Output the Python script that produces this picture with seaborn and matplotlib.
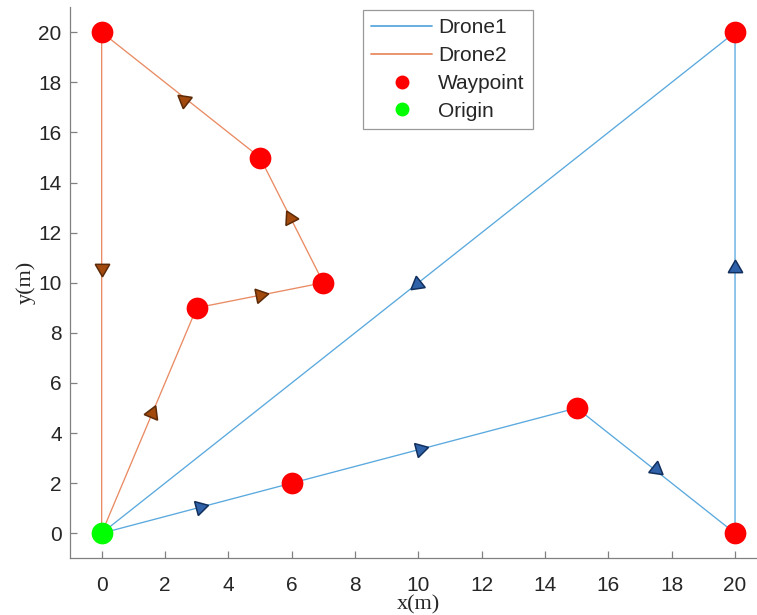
import numpy as np
import pandas as pd
import matplotlib
matplotlib.use("Agg")
import matplotlib.pyplot as plt
from matplotlib.lines import Line2D
import seaborn as sns

# Flight paths (metres)
drone1_x = [0, 6, 15, 20, 20, 0]
drone1_y = [0, 2, 5, 0, 20, 0]
drone2_x = [0, 3, 7, 5, 0, 0]
drone2_y = [0, 9, 10, 15, 20, 0]

# Waypoints and origin
waypoint_x = [6, 15, 20, 20, 3, 7, 5, 0]
waypoint_y = [2, 5, 0, 20, 9, 10, 15, 20]
origin_x = [0]
origin_y = [0]

# Direction arrowheads along each path (position and the path segment they sit on)
arrow1_x = [3.1, 10.05, 17.5, 9.95, 20.0]
arrow1_y = [1.03, 3.35, 2.55, 9.95, 10.6]
arrow1_seg = [0, 1, 2, 4, 3]
arrow2_x = [1.6, 5.0, 5.95, 2.6, 0.0]
arrow2_y = [4.8, 9.5, 12.6, 17.3, 10.6]
arrow2_seg = [0, 1, 2, 3, 4]

x_ticks = list(range(0, 21, 2))
y_ticks = list(range(0, 21, 2))

sns.set_theme(style="white")
plt.rcParams["font.family"] = ["Liberation Sans", "DejaVu Sans"]

W, H = 757, 615
fig = plt.figure(figsize=(W / 100, H / 100), dpi=100)
ax = fig.add_axes([70 / W, 56.7 / H, 696.7 / W, 551.1 / H])

c1 = "#5AA9DE"
c2 = "#E98B63"

d1 = pd.DataFrame({"x": drone1_x, "y": drone1_y})
d2 = pd.DataFrame({"x": drone2_x, "y": drone2_y})
sns.lineplot(data=d1, x="x", y="y", sort=False, estimator=None, color=c1,
             linewidth=0.95, ax=ax, zorder=2)
sns.lineplot(data=d2, x="x", y="y", sort=False, estimator=None, color=c2,
             linewidth=0.95, ax=ax, zorder=2)

wp = pd.DataFrame({"x": waypoint_x, "y": waypoint_y})
og = pd.DataFrame({"x": origin_x, "y": origin_y})
sns.scatterplot(data=wp, x="x", y="y", color="#FF0000", s=245, linewidth=0,
                ax=ax, zorder=4)
sns.scatterplot(data=og, x="x", y="y", color="#00FF00", s=245, linewidth=0,
                ax=ax, zorder=4)

ax.set_xlim(-1, 21)
ax.set_ylim(-1, 21)


def draw_arrows(px, py, segs, path_x, path_y, face, edge):
    for x, y, s in zip(px, py, segs):
        dx = path_x[s + 1] - path_x[s]
        dy = path_y[s + 1] - path_y[s]
        p0 = ax.transData.transform((0, 0))
        p1 = ax.transData.transform((dx, dy))
        heading = np.degrees(np.arctan2(p1[1] - p0[1], p1[0] - p0[0]))
        ax.plot([x], [y], marker=(3, 0, heading - 90), markersize=12,
                markerfacecolor=face, markeredgecolor=edge,
                markeredgewidth=1.1, linestyle="none", zorder=5)


draw_arrows(arrow1_x, arrow1_y, arrow1_seg, drone1_x, drone1_y, "#2F62A8", "#12305E")
draw_arrows(arrow2_x, arrow2_y, arrow2_seg, drone2_x, drone2_y, "#A24A0E", "#5C2A08")

ax.set_xticks(x_ticks)
ax.set_yticks(y_ticks)
ax.tick_params(bottom=True, left=True, top=False, right=False)
ax.tick_params(direction="in", length=5, width=0.9, colors="#808080",
               labelcolor="#262626", labelsize=15)
ax.tick_params(axis="x", pad=13)
ax.tick_params(axis="y", pad=6)
for side in ("top", "right"):
    ax.spines[side].set_visible(False)
for side in ("left", "bottom"):
    ax.spines[side].set_color("#808080")
    ax.spines[side].set_linewidth(0.9)

ax.set_xlabel("x(m)", family=["Liberation Serif", "DejaVu Serif"], fontsize=16,
              color="#262626", labelpad=0)
ax.set_ylabel("y(m)", family=["Liberation Serif", "DejaVu Serif"], fontsize=16,
              color="#262626", labelpad=2)

handles = [
    Line2D([], [], color=c1, linewidth=1.3, label="Drone1"),
    Line2D([], [], color=c2, linewidth=1.3, label="Drone2"),
    Line2D([], [], color="#FF0000", marker="o", markersize=9, linestyle="none",
           label="Waypoint"),
    Line2D([], [], color="#00FF00", marker="o", markersize=9, linestyle="none",
           label="Origin"),
]
leg = ax.legend(handles=handles, loc="upper left",
                bbox_to_anchor=(363 / W, 1 - 10 / H), bbox_transform=fig.transFigure,
                frameon=True, fancybox=False, fontsize=15, handlelength=2.9,
                handletextpad=0.3, labelspacing=0.42, borderpad=0.4,
                borderaxespad=0)
leg.get_frame().set_edgecolor("#808080")
leg.get_frame().set_linewidth(0.9)
for t in leg.get_texts():
    t.set_color("#262626")

fig.savefig("out.png", dpi=100)
